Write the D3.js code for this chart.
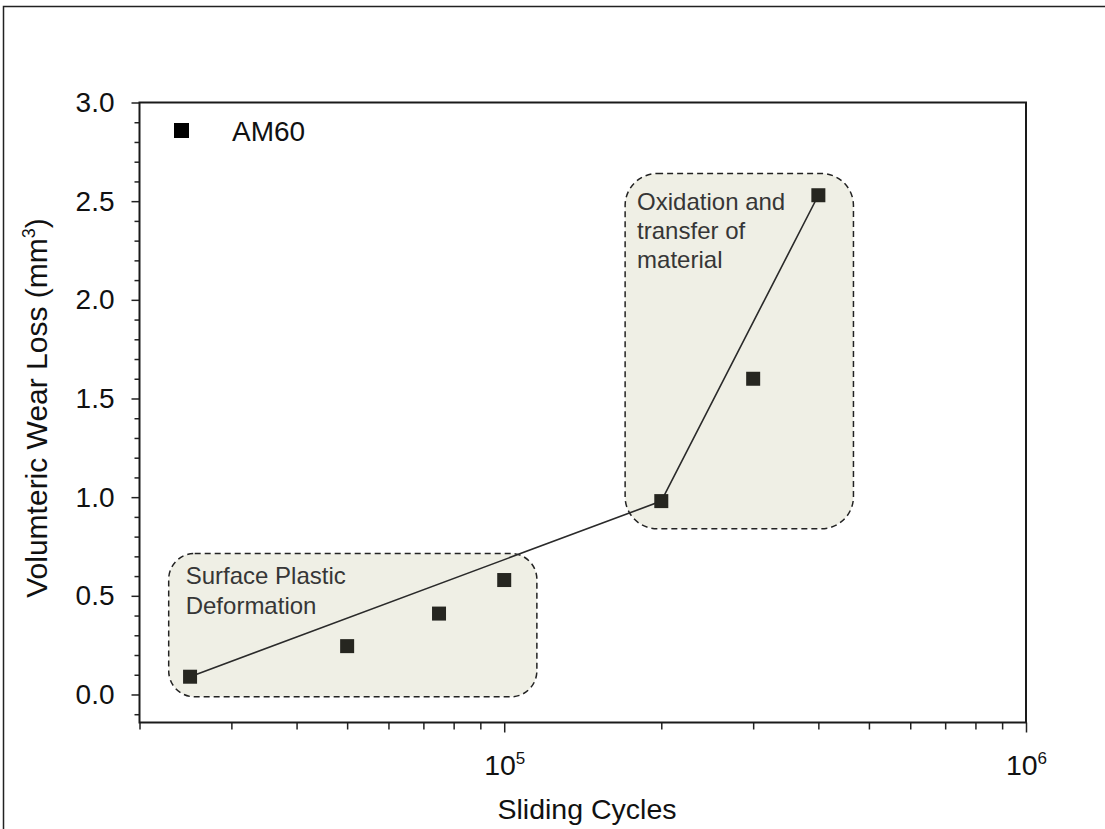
<!DOCTYPE html>
<html>
<head>
<meta charset="utf-8">
<script src="https://cdn.jsdelivr.net/npm/d3@7/dist/d3.min.js"></script>
<style>
  html, body { margin: 0; padding: 0; background: #fff; }
  svg text { font-family: "Liberation Sans", Arial, sans-serif; }
</style>
</head>
<body>
<svg id="chart" width="1105" height="829"></svg>
<script>
// ---- data ----
const seriesName = "AM60";
const cycles = [25000, 50000, 75000, 100000, 200000, 300000, 400000];
const wearLoss = [0.09, 0.245, 0.41, 0.58, 0.98, 1.60, 2.53];
const fitCycles = [25000, 200000, 400000];
const fitLoss = [0.09, 0.98, 2.53];
const yMajorTicks = [0.0, 0.5, 1.0, 1.5, 2.0, 2.5, 3.0];
const xMajorTicks = [1e5, 1e6];
const xTickExponents = ["5", "6"];
const regionNames = ["Surface Plastic Deformation", "Oxidation and transfer of material"];
const regionLines = [["Surface Plastic", "Deformation"], ["Oxidation and", "transfer of", "material"]];
const regionX0 = [22750, 170500];
const regionX1 = [115500, 467000];
const regionY0 = [-0.012, 0.84];
const regionY1 = [0.715, 2.64];
const xTitle = "Sliding Cycles";
const yTitle = "Volumteric Wear Loss (mm";

// ---- layout ----
const svg = d3.select("#chart");
const L = 139.5, R = 1026, T = 102.5, B = 722.5;
const x = d3.scaleLog().domain([2e4, 1e6]).range([L, R]);
const y = d3.scaleLinear().domain([-0.142, 3.0]).range([B, T]);

// outer frame
svg.append("rect").attr("x", 3.5).attr("y", 6.5).attr("width", 1200).attr("height", 900)
  .attr("fill", "none").attr("stroke", "#222").attr("stroke-width", 1.5);

// regions
const textPad = [[17, 31], [12, 36]];
regionNames.forEach((name, i) => {
  const x0 = x(regionX0[i]), x1 = x(regionX1[i]);
  const y0 = y(regionY1[i]), y1 = y(regionY0[i]);
  svg.append("rect")
    .attr("x", x0).attr("y", y0).attr("width", x1 - x0).attr("height", y1 - y0)
    .attr("rx", i === 0 ? 26 : 32).attr("ry", i === 0 ? 26 : 32)
    .attr("fill", "#efefe5").attr("stroke", "#222").attr("stroke-width", 1.5)
    .attr("stroke-dasharray", "6,4");
  const t = svg.append("text").attr("fill", "#363636").attr("font-size", 24);
  regionLines[i].forEach((ln, j) => {
    t.append("tspan").attr("x", x0 + textPad[i][0]).attr("y", y0 + textPad[i][1] + j * 29.3).text(ln);
  });
});

// axes
const yAxis = d3.axisLeft(y).tickValues(yMajorTicks).tickFormat(d3.format(".1f")).tickSize(8).tickPadding(17);
const gy = svg.append("g").attr("transform", `translate(${L},0)`).call(yAxis);
gy.select(".domain").remove();
gy.selectAll(".tick line").attr("stroke", "#222").attr("stroke-width", 1.5);
gy.selectAll(".tick text").attr("font-size", 28).attr("fill", "#111").attr("font-family", "Liberation Sans, Arial, sans-serif");
const yMinor = d3.range(-1, 30).map(k => k / 10).filter(v => Math.round(v * 10) % 5 !== 0);
const gym = svg.append("g").attr("transform", `translate(${L},0)`)
  .call(d3.axisLeft(y).tickValues(yMinor).tickSize(5).tickFormat(""));
gym.select(".domain").remove();
gym.selectAll(".tick line").attr("stroke", "#222").attr("stroke-width", 1.5);

const xMinor = [];
[1e4, 1e5].forEach(dec => { for (let k = 2; k <= 9; k++) { const v = k * dec; if (v >= 2e4) xMinor.push(v); } });
const gxm = svg.append("g").attr("transform", `translate(0,${B})`)
  .call(d3.axisBottom(x).tickValues(xMinor).tickSize(7).tickFormat(""));
gxm.select(".domain").remove();
gxm.selectAll(".tick line").attr("stroke", "#222").attr("stroke-width", 1.5);
const gx = svg.append("g").attr("transform", `translate(0,${B})`)
  .call(d3.axisBottom(x).tickValues(xMajorTicks).tickSize(10).tickFormat(""));
gx.select(".domain").remove();
gx.selectAll(".tick line").attr("stroke", "#222").attr("stroke-width", 1.5);
gx.selectAll(".tick").each(function(d, i) {
  const t = d3.select(this).append("text").attr("y", 52).attr("fill", "#111")
    .attr("font-size", 28.5).attr("text-anchor", "middle");
  t.append("tspan").text("10");
  t.append("tspan").attr("dy", -11).attr("font-size", 17).text(xTickExponents[i]);
});

// plot frame
svg.append("rect").attr("x", L).attr("y", T).attr("width", R - L).attr("height", B - T)
  .attr("fill", "none").attr("stroke", "#1a1a1a").attr("stroke-width", 2);

// fit line
const line = d3.line().x(d => x(d[0])).y(d => y(d[1]));
svg.append("path").datum(fitCycles.map((c, i) => [c, fitLoss[i]]))
  .attr("d", line).attr("fill", "none").attr("stroke", "#2a2a2a").attr("stroke-width", 1.6);

// markers
const ms = 14;
svg.append("g").selectAll("rect").data(cycles.map((c, i) => [c, wearLoss[i]])).join("rect")
  .attr("x", d => x(d[0]) - ms / 2).attr("y", d => y(d[1]) - ms / 2)
  .attr("width", ms).attr("height", ms).attr("fill", "#262620");

// legend
svg.append("rect").attr("x", 174).attr("y", 123).attr("width", 15).attr("height", 15).attr("fill", "#000");
svg.append("text").attr("x", 232).attr("y", 141).attr("font-size", 28).attr("fill", "#111").text(seriesName);

// titles
svg.append("text").attr("x", 587).attr("y", 819).attr("text-anchor", "middle")
  .attr("font-size", 28.5).attr("fill", "#111").text(xTitle);
const yt = svg.append("text").attr("transform", "translate(47,408) rotate(-90)")
  .attr("text-anchor", "middle").attr("font-size", 30).attr("fill", "#111");
yt.append("tspan").text(yTitle);
yt.append("tspan").attr("dy", -12).attr("font-size", 18).text("3");
yt.append("tspan").attr("dy", 12).text(")");
</script>
</body>
</html>
